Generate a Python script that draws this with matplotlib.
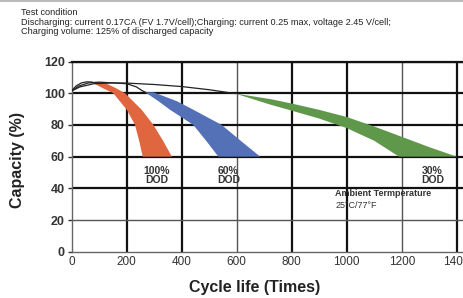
import numpy as np
import matplotlib.pyplot as plt
from matplotlib.lines import Line2D

plt.rcParams['font.family'] = ['Liberation Sans', 'DejaVu Sans']

# axis ticks
x_ticks = [0, 200, 400, 600, 800, 1000, 1200, 1400]
y_ticks = [0, 20, 40, 60, 80, 100, 120]

# black capacity lines before the fade (cycles, capacity %)
line_100_x = [0, 15, 35, 55, 75]
line_100_y = [101.5, 104.5, 106.5, 107.2, 107]
line_60_x = [0, 25, 60, 100, 200, 235, 255, 268]
line_60_y = [101.5, 104.5, 106.5, 107, 106, 104, 101.7, 100.6]
line_30_x = [0, 30, 80, 150, 200, 300, 400, 500, 594]
line_30_y = [101.5, 104, 106, 106.5, 106.4, 105.5, 104.2, 102.2, 99.8]

# fade bands: left (lower) edge and right (upper) edge
red_left_x = [72, 115, 151, 200, 230, 245, 258]
red_left_y = [107, 103, 100, 89.6, 80, 70, 60]
red_right_x = [115, 157, 194, 254, 297, 332, 364]
red_right_y = [107, 103.5, 100, 89.6, 80, 70, 60]

blue_left_x = [267, 315, 357, 442, 491, 533]
blue_left_y = [100.6, 95, 89.6, 80, 69.5, 60]
blue_right_x = [297, 382, 442, 545, 618, 685]
blue_right_y = [100.6, 95, 89.6, 80, 69.5, 60]

green_left_x = [594, 722, 800, 900, 1000, 1100, 1190]
green_left_y = [99.8, 92.8, 89, 84, 78, 70, 60]
green_right_x = [594, 722, 800, 900, 1000, 1100, 1200, 1300, 1400]
green_right_y = [99.8, 96.3, 93.5, 89.5, 85, 79, 72.5, 66, 60]

dod_labels = ['100%\nDOD', '60%\nDOD', '30%\nDOD']
dod_x = [310, 569, 1311]

fig = plt.figure(figsize=(4.63, 2.98), dpi=100)
ax = fig.add_axes([0.155, 0.155, 0.891, 0.6386])
ax.set_xlim(0, 1500)
ax.set_ylim(0, 120)

# grid, some lines heavier than others
for x in x_ticks[1:]:
    heavy = x not in (600, 1200)
    ax.axvline(x, color='#111111' if heavy else '#555555', lw=1.6 if heavy else 1.0, zorder=1)
for y in y_ticks[1:]:
    heavy = y != 20
    ax.axhline(y, color='#111111' if heavy else '#555555', lw=1.6 if heavy else 1.0, zorder=1)

def band(lx, ly, rx, ry, color):
    xs = list(lx) + list(rx)[::-1]
    ys = list(ly) + list(ry)[::-1]
    ax.fill(xs, ys, color=color, lw=0, zorder=2)

band(red_left_x, red_left_y, red_right_x, red_right_y, '#e0663f')
band(blue_left_x, blue_left_y, blue_right_x, blue_right_y, '#5470b6')
band(green_left_x, green_left_y, green_right_x, green_right_y, '#60984b')

for lx, ly in [(line_100_x, line_100_y), (line_60_x, line_60_y), (line_30_x, line_30_y)]:
    ax.plot(lx, ly, color='#222222', lw=0.9, zorder=3)

for lab, x in zip(dod_labels, dod_x):
    ax.text(x, 48, lab, ha='center', va='center', fontsize=7.5, fontweight='bold',
            color='#333333', linespacing=0.95, zorder=4)

ax.text(958, 36.5, 'Ambient Termperature', fontsize=6.5, fontweight='bold',
        color='#333333', va='center', zorder=4)
ax.text(958, 29, '25°C/77°F', fontsize=6.5, color='#333333', va='center', zorder=4)

ax.set_xticks(x_ticks)
ax.set_yticks(y_ticks)
ax.tick_params(axis='x', length=0, labelsize=8.5, pad=3, colors='#333333')
ax.tick_params(axis='y', length=3, width=1, labelsize=9, pad=2, colors='#333333')
for t in ax.get_yticklabels():
    t.set_fontweight('bold')

for s in ['left', 'bottom']:
    ax.spines[s].set_color('#666666')
    ax.spines[s].set_linewidth(1)
ax.spines['top'].set_color('#111111')
ax.spines['top'].set_linewidth(1.6)
ax.spines['right'].set_visible(False)

fig.text(255 / 463, 0.034, 'Cycle life (Times)', ha='center', va='center',
         fontsize=11.5, fontweight='bold', color='#222222')
fig.text(18 / 463, 0.463, 'Capacity (%)', ha='center', va='center', rotation=90,
         fontsize=11.5, fontweight='bold', color='#222222')

header = ['Test condition',
          'Discharging: current 0.17CA (FV 1.7V/cell);Charging: current 0.25 max, voltage 2.45 V/cell;',
          'Charging volume: 125% of discharged capacity']
for i, line in enumerate(header):
    fig.text(21 / 463, 1 - (12.5 + 9.6 * i) / 298, line, fontsize=6.6, va='center', color='#222222')

fig.add_artist(Line2D([0, 1], [0.997, 0.997], color='#bbbbbb', lw=1.5))

fig.savefig('out.png', dpi=100)
